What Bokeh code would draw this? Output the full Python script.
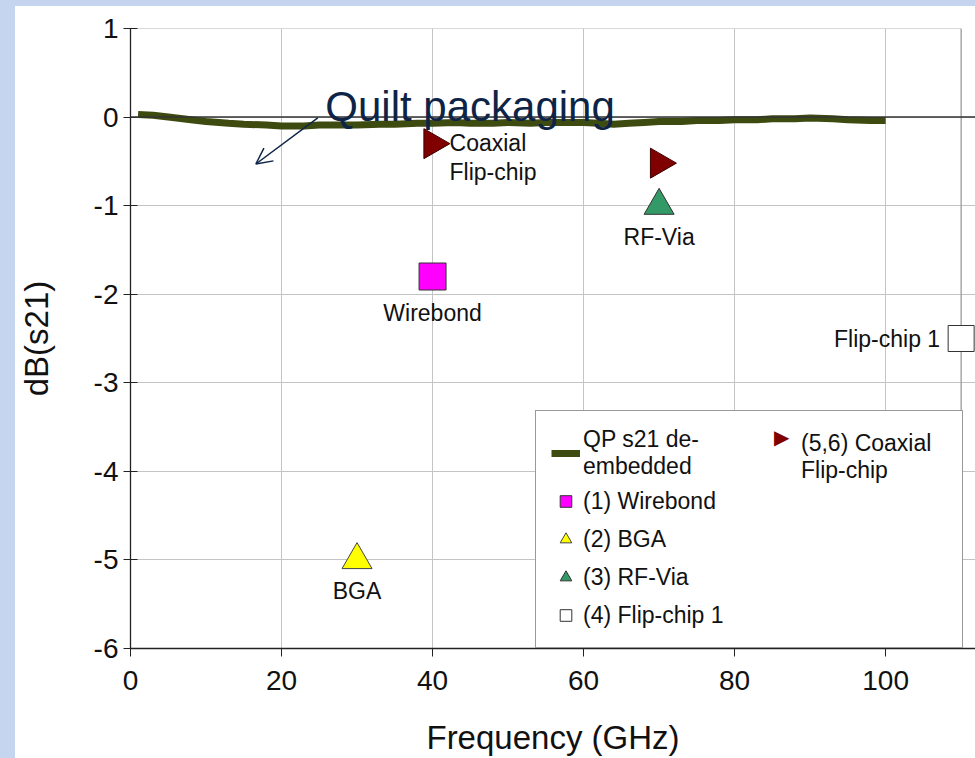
import math
from bokeh.plotting import figure
from bokeh.models import (Range1d, FixedTicker, Span, Label, Arrow, OpenHead,
                          Legend, LegendItem, ColumnDataSource)
from bokeh.core.properties import value
from bokeh.embed import file_html
from bokeh.resources import INLINE

# ---------------- data ----------------
qp_freq = [1, 3, 5, 8, 10, 13, 15, 18, 20, 23, 25, 28, 30, 33, 35, 38, 40, 43, 45, 48,
           50, 53, 55, 58, 60, 62, 64, 66, 68, 70, 73, 75, 78, 80, 83, 85, 88, 90, 93, 95, 98, 100]
qp_s21 = [0.03, 0.02, 0.00, -0.03, -0.05, -0.07, -0.08, -0.09, -0.10, -0.10, -0.09, -0.09,
          -0.09, -0.08, -0.08, -0.07, -0.07, -0.06, -0.07, -0.07, -0.06, -0.07, -0.06, -0.06,
          -0.06, -0.07, -0.08, -0.07, -0.06, -0.05, -0.05, -0.04, -0.04, -0.03, -0.03, -0.02,
          -0.02, -0.01, -0.02, -0.03, -0.04, -0.04]

wirebond_f, wirebond_db = [40], [-1.8]
bga_f, bga_db = [30], [-5.0]
rfvia_f, rfvia_db = [70], [-1.0]
flipchip1_f, flipchip1_db = [110], [-2.5]
coax_f, coax_db = [40, 70], [-0.3, -0.52]

x_ticks = [0, 20, 40, 60, 80, 100]
y_ticks = [-6, -5, -4, -3, -2, -1, 0, 1]
x_border = 110  # right edge of the plot box

legend_labels = ["QP s21 de-\nembedded", "(1) Wirebond", "(2) BGA", "(3) RF-Via",
                 "(4) Flip-chip 1", "(5,6) Coaxial\nFlip-chip"]
point_labels = ["Wirebond", "BGA", "RF-Via", "Flip-chip 1", "Coaxial\nFlip-chip"]
annotation_text = "Quilt packaging"
coax_symbol = "\u25b6"

FONT = "Liberation Sans"
NAVY = "#0d2447"

p = figure(width=975, height=758, output_backend="svg", toolbar_location=None,
           x_range=Range1d(0, 111.9), y_range=Range1d(-6, 1),
           min_border_left=130, min_border_right=0, min_border_top=28, min_border_bottom=108)
p.border_fill_color = None
p.background_fill_color = "white"
p.outline_line_color = None

# axes
p.xaxis.ticker = FixedTicker(ticks=x_ticks)
p.yaxis.ticker = FixedTicker(ticks=y_ticks)
p.xaxis.major_label_overrides = {t: str(t) for t in x_ticks}
p.yaxis.major_label_overrides = {t: str(t) for t in y_ticks}
for ax in (p.xaxis, p.yaxis):
    ax.axis_line_color = "#222222"
    ax.axis_line_width = 1.3
    ax.major_tick_line_color = "#222222"
    ax.minor_tick_line_color = None
    ax.major_label_text_font = FONT
    ax.major_label_text_font_size = "28px"
    ax.major_label_text_color = "#111111"
    ax.axis_label_text_font = FONT
    ax.axis_label_text_font_size = "33px"
    ax.axis_label_text_font_style = "normal"
    ax.axis_label_text_color = "#111111"
p.xaxis.major_tick_in = 0
p.xaxis.major_tick_out = 8
p.yaxis.major_tick_in = 7
p.yaxis.major_tick_out = 7
p.xaxis.major_label_standoff = 14
p.yaxis.major_label_standoff = 5
p.xaxis.axis_label = "Frequency (GHz)"
p.yaxis.axis_label = "dB(s21)"
p.xaxis.axis_label_standoff = 26
p.yaxis.axis_label_standoff = 36

# grid
p.xgrid.ticker = FixedTicker(ticks=x_ticks)
p.ygrid.ticker = FixedTicker(ticks=y_ticks[:-1])
p.xgrid.grid_line_color = "#c4c4c4"
p.ygrid.grid_line_color = "#c4c4c4"
p.segment(x0=[0], y0=[max(y_ticks)], x1=[x_border], y1=[max(y_ticks)],
          line_color="#b4b4b4", line_width=1.2)
p.segment(x0=[x_border], y0=[min(y_ticks)], x1=[x_border], y1=[max(y_ticks)],
          line_color="#9a9a9a", line_width=1.3)
p.add_layout(Span(location=0, dimension="width", line_color="#333333", line_width=1.5))

# series
qp = p.line(qp_freq, qp_s21, line_color="#3d4b11", line_width=7)
wb = p.scatter(wirebond_f, wirebond_db, marker="square", size=27,
               fill_color="#ff00ff", line_color="#333333", line_width=1)
bga = p.scatter(bga_f, bga_db, marker="triangle", size=30,
                fill_color="#ffff00", line_color="#444444", line_width=1)
rf = p.scatter(rfvia_f, rfvia_db, marker="triangle", size=30,
               fill_color="#339966", line_color="#333333", line_width=1)
fc = p.scatter(flipchip1_f, flipchip1_db, marker="square", size=26,
               fill_color="white", line_color="#333333", line_width=1)
cx = p.scatter(coax_f, coax_db, marker="triangle", size=30, angle=-math.pi / 2,
               fill_color="#800000", line_color="#3a0000", line_width=1)
cx_proxy = p.scatter([], [], marker="triangle", size=1, fill_alpha=0, line_alpha=0)

# point labels
lbl_src = ColumnDataSource(dict(
    x=[wirebond_f[0], bga_f[0], rfvia_f[0], flipchip1_f[0], coax_f[0]],
    y=[wirebond_db[0], bga_db[0], rfvia_db[0], flipchip1_db[0], coax_db[0]],
    text=point_labels,
    xo=[0, 0, 0, -21, 17],
    yo=[36, 31, 31, 0, -14],
    align=["center", "center", "center", "right", "left"],
    base=["middle", "middle", "middle", "middle", "top"],
))
p.text(x="x", y="y", text="text", x_offset="xo", y_offset="yo", text_align="align",
       text_baseline="base", source=lbl_src, text_font=value(FONT),
       text_font_size="23px", text_color="#111111", text_line_height=1.13)

# annotation
p.add_layout(Arrow(end=OpenHead(size=16, line_color=NAVY, line_width=1.5),
                   x_start=24.8, y_start=-0.01, x_end=16.6, y_end=-0.53,
                   line_color=NAVY, line_width=1.5))
p.add_layout(Label(x=25.8, y=0.0, y_offset=11, text=annotation_text, text_font=FONT,
                   text_font_size="42px", text_color=NAVY, text_baseline="alphabetic"))

# legend (first column boxed, second column overlaid on the same box)
common = dict(label_text_font=FONT, label_text_font_size="23px", label_text_color="#111111",
              label_text_line_height=1.0, glyph_width=29, glyph_height=34, label_height=27,
              label_standoff=3, spacing=4, padding=15, margin=0)
legend1 = Legend(items=[LegendItem(label=legend_labels[0], renderers=[qp]),
                        LegendItem(label=legend_labels[1], renderers=[wb]),
                        LegendItem(label=legend_labels[2], renderers=[bga]),
                        LegendItem(label=legend_labels[3], renderers=[rf]),
                        LegendItem(label=legend_labels[4], renderers=[fc])],
                 location=(405, 0), orientation="vertical", label_width=364,
                 border_line_color="#333333", border_line_width=1.2,
                 background_fill_color="white", background_fill_alpha=1.0, **common)
legend2 = Legend(items=[LegendItem(label=legend_labels[5], renderers=[cx_proxy])],
                 location=(639, 164), orientation="vertical", label_width=100,
                 border_line_color=None, background_fill_alpha=0.0, **common)
# right-pointing marker symbol of the (5,6) entry
legend3 = Legend(items=[LegendItem(label=coax_symbol, renderers=[cx_proxy])],
                 location=(643, 199), orientation="vertical",
                 label_text_font="DejaVu Sans", label_text_font_size="20px",
                 label_text_color="#800000", glyph_width=1, glyph_height=20,
                 label_height=20, label_width=10, label_standoff=0, spacing=0,
                 padding=0, margin=0, border_line_color=None, background_fill_alpha=0.0)
p.add_layout(legend1)
p.add_layout(legend2)
p.add_layout(legend3)

html = file_html(p, INLINE)
css = ("<style>html{min-height:100%;background:"
       "linear-gradient(to right,#c6d5ef 15px,rgba(255,255,255,0) 15px),"
       "linear-gradient(to bottom,#c6d5ef 6px,#ffffff 6px);}"
       "body{background:transparent;}</style></head>")
html = html.replace("</head>", css, 1)
open("out.html", "w").write(html)
